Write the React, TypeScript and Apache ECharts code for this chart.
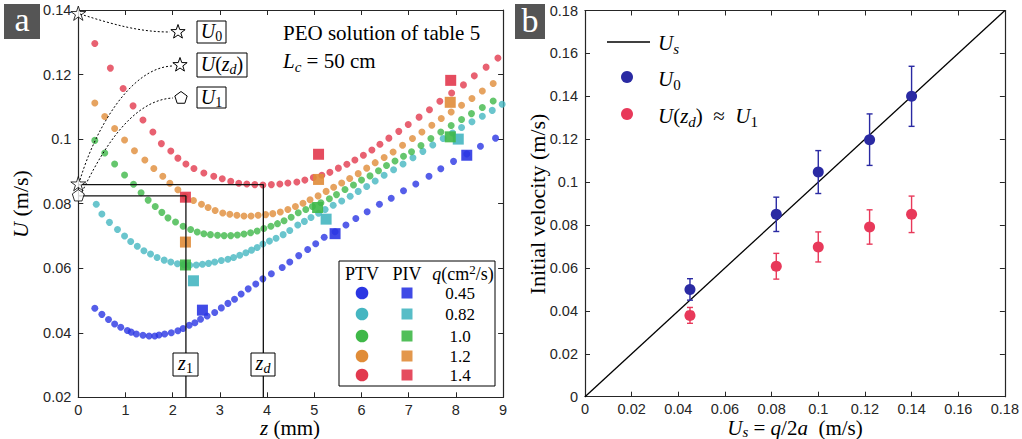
import { useEffect, useRef } from 'react';
import * as echarts from 'echarts';

const SERIF = '"Liberation Serif", "Times New Roman", serif';
const SANS = '"Liberation Sans", Arial, Helvetica, sans-serif';
const AXIS_COLOR = '#262626';

// ---------------- Panel a data ----------------
const flowRates = ['0.45', '0.82', '1.0', '1.2', '1.4'];
const seriesColors = ['#2B36E3', '#45B6C1', '#3FB848', '#E08C38', '#E2394E'];

const ptv045 = [
  [0.35, 0.0476], [0.50, 0.0457], [0.64, 0.0441], [0.77, 0.0427], [0.90, 0.0417], [1.04, 0.0407],
  [1.12, 0.0402], [1.23, 0.0396], [1.37, 0.0392], [1.50, 0.0390], [1.62, 0.0390], [1.71, 0.0393],
  [1.83, 0.0396], [1.97, 0.0400], [2.11, 0.0406], [2.22, 0.0413], [2.35, 0.0423], [2.47, 0.0431],
  [2.59, 0.0442], [2.73, 0.0452], [2.89, 0.0463], [3.03, 0.0477], [3.17, 0.0491], [3.31, 0.0504],
  [3.45, 0.0520], [3.60, 0.0536], [3.76, 0.0551], [3.91, 0.0567], [4.09, 0.0583], [4.32, 0.0602],
  [4.48, 0.0619], [4.67, 0.0639], [4.86, 0.0658], [5.03, 0.0676], [5.21, 0.0696], [5.44, 0.0713],
  [5.67, 0.0734], [5.88, 0.0754], [6.12, 0.0775], [6.38, 0.0798], [6.63, 0.0817], [6.89, 0.0840],
  [7.15, 0.0861], [7.43, 0.0885], [7.68, 0.0908], [7.95, 0.0931], [8.23, 0.0954], [8.52, 0.0978],
  [8.84, 0.1003],
];
const ptv082 = [
  [0.38, 0.0798], [0.50, 0.0768], [0.66, 0.0742], [0.83, 0.0720], [0.98, 0.0700], [1.11, 0.0683],
  [1.25, 0.0668], [1.39, 0.0654], [1.53, 0.0644], [1.67, 0.0633], [1.82, 0.0625], [1.96, 0.0619],
  [2.10, 0.0614], [2.24, 0.0611], [2.36, 0.0609], [2.50, 0.0610], [2.63, 0.0612], [2.76, 0.0615],
  [2.89, 0.0619], [3.03, 0.0624], [3.17, 0.0628], [3.29, 0.0633], [3.42, 0.0640], [3.55, 0.0648],
  [3.67, 0.0656], [3.79, 0.0664], [3.91, 0.0675], [4.05, 0.0684], [4.19, 0.0693], [4.34, 0.0704],
  [4.48, 0.0717], [4.65, 0.0734], [4.79, 0.0745], [4.93, 0.0757], [5.09, 0.0770], [5.23, 0.0782],
  [5.40, 0.0795], [5.58, 0.0808], [5.76, 0.0823], [5.93, 0.0838], [6.11, 0.0853], [6.29, 0.0870],
  [6.48, 0.0888], [6.68, 0.0905], [6.88, 0.0923], [7.09, 0.0942], [7.30, 0.0962], [7.51, 0.0982],
  [7.73, 0.1002], [7.93, 0.1019], [8.12, 0.1036], [8.34, 0.1054], [8.56, 0.1071], [8.77, 0.1089],
  [8.98, 0.1108],
];
const ptv10 = [
  [0.35, 0.0996], [0.56, 0.0957], [0.77, 0.0923], [0.98, 0.0889], [1.17, 0.0860], [1.33, 0.0834],
  [1.48, 0.0811], [1.63, 0.0791], [1.77, 0.0773], [1.90, 0.0756], [2.06, 0.0743], [2.22, 0.0730],
  [2.38, 0.0720], [2.52, 0.0712], [2.66, 0.0707], [2.80, 0.0704], [2.95, 0.0702], [3.09, 0.0701],
  [3.23, 0.0701], [3.37, 0.0703], [3.51, 0.0706], [3.65, 0.0710], [3.79, 0.0715], [3.93, 0.0723],
  [4.08, 0.0730], [4.22, 0.0738], [4.36, 0.0747], [4.51, 0.0758], [4.66, 0.0772], [4.82, 0.0782],
  [4.96, 0.0791], [5.14, 0.0803], [5.32, 0.0815], [5.47, 0.0828], [5.65, 0.0844], [5.83, 0.0858],
  [6.00, 0.0873], [6.18, 0.0886], [6.36, 0.0902], [6.53, 0.0918], [6.71, 0.0932], [6.89, 0.0947],
  [7.06, 0.0961], [7.26, 0.0980], [7.47, 0.1002], [7.68, 0.1022], [7.90, 0.1042], [8.12, 0.1061],
  [8.33, 0.1079], [8.56, 0.1098], [8.79, 0.1118],
];
const ptv12 = [
  [0.35, 0.1112], [0.56, 0.1070], [0.77, 0.1033], [0.98, 0.0997], [1.19, 0.0964], [1.41, 0.0935],
  [1.60, 0.0909], [1.79, 0.0885], [1.94, 0.0863], [2.11, 0.0843], [2.26, 0.0823], [2.44, 0.0810],
  [2.61, 0.0798], [2.75, 0.0788], [2.90, 0.0779], [3.06, 0.0771], [3.21, 0.0767], [3.36, 0.0764],
  [3.51, 0.0762], [3.66, 0.0762], [3.81, 0.0764], [3.97, 0.0766], [4.12, 0.0769], [4.28, 0.0774],
  [4.44, 0.0782], [4.60, 0.0791], [4.76, 0.0801], [4.91, 0.0812], [5.08, 0.0824], [5.25, 0.0838],
  [5.41, 0.0851], [5.58, 0.0864], [5.75, 0.0878], [5.93, 0.0893], [6.11, 0.0910], [6.29, 0.0927],
  [6.48, 0.0943], [6.67, 0.0960], [6.87, 0.0981], [7.08, 0.1002], [7.28, 0.1022], [7.49, 0.1043],
  [7.69, 0.1064], [7.90, 0.1084], [8.12, 0.1105], [8.34, 0.1126], [8.56, 0.1149], [8.79, 0.1172],
];
const ptv14 = [
  [0.35, 0.1296], [0.68, 0.1220], [0.95, 0.1157], [1.16, 0.1103], [1.37, 0.1059], [1.58, 0.1022],
  [1.76, 0.0986], [1.96, 0.0963], [2.11, 0.0941], [2.28, 0.0923], [2.45, 0.0909], [2.66, 0.0895],
  [2.87, 0.0885], [3.05, 0.0877], [3.23, 0.0869], [3.40, 0.0863], [3.57, 0.0861], [3.74, 0.0859],
  [3.91, 0.0858], [4.09, 0.0859], [4.27, 0.0861], [4.44, 0.0864], [4.63, 0.0867], [4.80, 0.0873],
  [4.98, 0.0881], [5.16, 0.0888], [5.33, 0.0897], [5.51, 0.0910], [5.69, 0.0922], [5.86, 0.0935],
  [6.04, 0.0950], [6.22, 0.0966], [6.39, 0.0984], [6.58, 0.1003], [6.79, 0.1024], [6.99, 0.1045],
  [7.22, 0.1068], [7.44, 0.1091], [7.66, 0.1117], [7.91, 0.1143], [8.16, 0.1168], [8.39, 0.1196],
  [8.64, 0.1223], [8.89, 0.1251],
];
const piv045 = [[2.63, 0.0470], [5.44, 0.0707], [8.23, 0.0950]];
const piv082 = [[2.44, 0.0561], [5.25, 0.0752], [8.05, 0.1000]];
const piv10 = [[2.27, 0.0610], [5.07, 0.0788], [7.88, 0.1007]];
const piv12 = [[2.27, 0.0681], [5.09, 0.0875], [7.88, 0.1114]];
const piv14 = [[2.27, 0.0820], [5.09, 0.0953], [7.89, 0.1182]];

const z1Guide = [[0, 0.0824], [2.28, 0.0824], [2.28, 0.02]];
const zdGuide = [[0, 0.0859], [3.92, 0.0859], [3.92, 0.02]];
const axisStars = [[0, 0.139], [0, 0.0862]];
const axisPentagons = [[0, 0.0826]];

// ---------------- Panel b data ----------------
const usValues = [0.045, 0.082, 0.1, 0.122, 0.14];
const u0Values = [0.050, 0.085, 0.1047, 0.1198, 0.140];
const u0Errors = [0.005, 0.008, 0.010, 0.012, 0.014];
const u1Values = [0.0379, 0.0608, 0.0698, 0.0791, 0.0850];
const u1Errors = [0.0037, 0.006, 0.007, 0.008, 0.0085];
const usLine = [[0, 0], [0.18, 0.18]];

const U0_COLOR = '#2A2AA3';
const U1_COLOR = '#E8395A';

const STAR_PATH = 'path://M10 0 L12.23 6.93 L19.51 6.91 L13.61 11.17 L15.88 18.09 L10 13.8 L4.12 18.09 L6.39 11.17 L0.49 6.91 L7.77 6.93 Z';
const PENT_PATH = 'path://M10 0 L19.51 6.91 L15.88 18.09 L4.12 18.09 L0.49 6.91 Z';

function rich(fs: number, subPad?: number) {
  const sub = Math.round(fs * 0.7);
  const pad = subPad !== undefined ? subPad : Math.round(fs * 0.55);
  return {
    i: { fontFamily: SERIF, fontStyle: 'italic', fontSize: fs, lineHeight: fs, fill: '#000', color: '#000' },
    n: { fontFamily: SERIF, fontSize: fs, lineHeight: fs, fill: '#000', color: '#000' },
    s: { fontFamily: SERIF, fontSize: sub, lineHeight: sub, fill: '#000', color: '#000', padding: [pad, 0, 0, 0] },
    si: { fontFamily: SERIF, fontStyle: 'italic', fontSize: sub, lineHeight: sub, fill: '#000', color: '#000', padding: [pad, 0, 0, 0] },
    p: { fontFamily: SERIF, fontSize: sub, lineHeight: sub, fill: '#000', color: '#000', padding: [0, 0, pad, 0] },
  };
}

function txt(x: number, y: number, text: string, fs: number, extra: any = {}) {
  const { subPad, align, ...rest } = extra;
  return {
    type: 'text', x, y, z: 100,
    ...rest,
    style: {
      text, fontFamily: SERIF, fontSize: fs, fill: '#000',
      align: align || 'center', verticalAlign: 'middle', rich: rich(fs, subPad),
    },
  };
}

function starPts(cx: number, cy: number, R: number, r: number) {
  const pts: number[][] = [];
  for (let k = 0; k < 10; k++) {
    const a = -Math.PI / 2 + (k * Math.PI) / 5;
    const rad = k % 2 === 0 ? R : r;
    pts.push([cx + rad * Math.cos(a), cy + rad * Math.sin(a)]);
  }
  return pts;
}
function pentPts(cx: number, cy: number, R: number) {
  const pts: number[][] = [];
  for (let k = 0; k < 5; k++) {
    const a = -Math.PI / 2 + (k * 2 * Math.PI) / 5;
    pts.push([cx + R * Math.cos(a), cy + R * Math.sin(a)]);
  }
  return pts;
}

function mkAxis(kind: 'x' | 'y', gridIndex: number, min: number, max: number, interval: number, labels: boolean, position: string) {
  return {
    type: 'value', gridIndex, min, max, interval, position,
    axisLine: { show: true, onZero: false, lineStyle: { color: AXIS_COLOR, width: 1.2 } },
    axisTick: { show: true, inside: true, length: 5, lineStyle: { color: AXIS_COLOR, width: 1 } },
    axisLabel: { show: labels, color: AXIS_COLOR, fontFamily: SANS, fontSize: 14.5, margin: kind === 'x' ? 5 : 7 },
    splitLine: { show: false },
  };
}

const errorBarItem = (color: string) => (params: any, api: any) => {
  const x = api.value(0), y = api.value(1), e = api.value(2);
  const hi = api.coord([x, y + e]);
  const lo = api.coord([x, y - e]);
  const style = { stroke: color, lineWidth: 1.4 };
  return {
    type: 'group',
    children: [
      { type: 'line', shape: { x1: hi[0], y1: hi[1], x2: lo[0], y2: lo[1] }, style },
      { type: 'line', shape: { x1: hi[0] - 3, y1: hi[1], x2: hi[0] + 3, y2: hi[1] }, style },
      { type: 'line', shape: { x1: lo[0] - 3, y1: lo[1], x2: lo[0] + 3, y2: lo[1] }, style },
    ],
  };
};

export default function App() {
  const ref = useRef<HTMLDivElement>(null);
  useEffect(() => {
    if (!ref.current) return;
    const chart = echarts.init(ref.current, undefined, { renderer: 'svg' });
    const ptv = [ptv045, ptv082, ptv10, ptv12, ptv14];
    const piv = [piv045, piv082, piv10, piv12, piv14];

    const series: any[] = [];
    ptv.forEach((d, k) => series.push({
      type: 'scatter', xAxisIndex: 0, yAxisIndex: 0, data: d, symbol: 'circle', symbolSize: 7,
      itemStyle: { color: seriesColors[k] }, z: 2,
    }));
    piv.forEach((d, k) => series.push({
      type: 'scatter', xAxisIndex: 0, yAxisIndex: 0, data: d, symbol: 'rect', symbolSize: 11,
      itemStyle: { color: seriesColors[k], opacity: 0.9 }, z: 3,
    }));
    [z1Guide, zdGuide].forEach((d) => series.push({
      type: 'line', xAxisIndex: 0, yAxisIndex: 0, data: d, symbol: 'none',
      lineStyle: { color: '#111', width: 1.3 }, z: 5,
    }));
    series.push({
      type: 'scatter', xAxisIndex: 0, yAxisIndex: 0, data: axisStars, symbol: STAR_PATH, symbolSize: 15,
      symbolKeepAspect: true, clip: false, itemStyle: { color: '#fff', borderColor: '#000', borderWidth: 1 }, z: 10,
    });
    series.push({
      type: 'scatter', xAxisIndex: 0, yAxisIndex: 0, data: axisPentagons, symbol: PENT_PATH, symbolSize: 12,
      symbolKeepAspect: true, clip: false, itemStyle: { color: '#fff', borderColor: '#000', borderWidth: 1 }, z: 10,
    });

    // panel b
    series.push({
      type: 'line', xAxisIndex: 2, yAxisIndex: 2, data: usLine, symbol: 'none',
      lineStyle: { color: '#000', width: 1.3 }, z: 2,
    });
    series.push({
      type: 'custom', xAxisIndex: 2, yAxisIndex: 2, coordinateSystem: 'cartesian2d',
      data: usValues.map((x, i) => [x, u0Values[i], u0Errors[i]]), encode: { x: 0, y: 1 },
      renderItem: errorBarItem(U0_COLOR), z: 3,
    });
    series.push({
      type: 'custom', xAxisIndex: 2, yAxisIndex: 2, coordinateSystem: 'cartesian2d',
      data: usValues.map((x, i) => [x, u1Values[i], u1Errors[i]]), encode: { x: 0, y: 1 },
      renderItem: errorBarItem(U1_COLOR), z: 3,
    });
    series.push({
      type: 'scatter', xAxisIndex: 2, yAxisIndex: 2, data: usValues.map((x, i) => [x, u0Values[i]]),
      symbolSize: 11, itemStyle: { color: U0_COLOR, opacity: 1 }, z: 4,
    });
    series.push({
      type: 'scatter', xAxisIndex: 2, yAxisIndex: 2, data: usValues.map((x, i) => [x, u1Values[i]]),
      symbolSize: 11, itemStyle: { color: U1_COLOR, opacity: 1 }, z: 4,
    });

    const dotted = { stroke: '#000', lineWidth: 1, lineDash: [2, 2], fill: 'none' };
    const white = { fill: '#fff', stroke: '#000', lineWidth: 1 };
    const legendRows = [293, 314, 336, 356, 375];

    const elements: any[] = [
      // panel labels
      { type: 'rect', z: 100, shape: { x: 4, y: 4, width: 36, height: 35 }, style: { fill: '#555' } },
      { type: 'text', z: 101, x: 22, y: 19, style: { text: 'a', fontFamily: SERIF, fontSize: 34, fill: '#fff', align: 'center', verticalAlign: 'middle' } },
      { type: 'rect', z: 100, shape: { x: 515, y: 4, width: 30, height: 35 }, style: { fill: '#555' } },
      { type: 'text', z: 101, x: 530, y: 20, style: { text: 'b', fontFamily: SERIF, fontSize: 34, fill: '#fff', align: 'center', verticalAlign: 'middle' } },

      // dotted connectors
      { type: 'bezierCurve', z: 99, shape: { x1: 80, y1: 14, x2: 170, y2: 32, cpx1: 115, cpy1: 25, cpx2: 140, cpy2: 32 }, style: dotted },
      { type: 'bezierCurve', z: 99, shape: { x1: 80, y1: 180, x2: 172, y2: 66, cpx1: 95, cpy1: 130, cpx2: 130, cpy2: 68 }, style: dotted },
      { type: 'bezierCurve', z: 99, shape: { x1: 82, y1: 192, x2: 173, y2: 98, cpx1: 100, cpy1: 155, cpx2: 130, cpy2: 100 }, style: dotted },

      // marker keys
      { type: 'polygon', z: 100, shape: { points: starPts(178, 32, 7.5, 3) }, style: white },
      { type: 'polygon', z: 100, shape: { points: starPts(180, 65, 7.5, 3) }, style: white },
      { type: 'polygon', z: 100, shape: { points: pentPts(181, 98, 6.5) }, style: white },
      { type: 'rect', z: 100, shape: { x: 197, y: 21, width: 29, height: 22 }, style: white },
      { type: 'rect', z: 100, shape: { x: 197, y: 53, width: 50, height: 24 }, style: white },
      { type: 'rect', z: 100, shape: { x: 197, y: 87, width: 29, height: 21 }, style: white },
      txt(211.5, 31, '{i|U}{s|0}', 20, { z: 101 }),
      txt(222, 64, '{i|U}{n|(}{i|z}{si|d}{n|)}', 20, { z: 101 }),
      txt(211.5, 97, '{i|U}{s|1}', 20, { z: 101 }),

      // z1 / zd labels
      { type: 'rect', z: 100, shape: { x: 173, y: 353, width: 25, height: 23 }, style: white },
      { type: 'rect', z: 100, shape: { x: 251, y: 353, width: 24, height: 23 }, style: white },
      txt(185.5, 363, '{i|z}{s|1}', 20, { z: 101 }),
      txt(263, 363, '{i|z}{si|d}', 20, { z: 101 }),

      // title texts panel a
      txt(283, 33, '{n|PEO solution of table 5}', 21, { align: 'left', z: 101 }),
      txt(283, 61, '{i|L}{si|c}{n| = 50 cm}', 21, { align: 'left', z: 101 }),

      // legend panel a
      { type: 'rect', z: 100, shape: { x: 339, y: 261, width: 156, height: 125 }, style: white },
      txt(362, 274, '{n|PTV}', 18, { z: 101 }),
      txt(407, 274, '{n|PIV}', 18, { z: 101 }),
      txt(463, 274, '{i|q}{n|(cm}{p|2}{n|/s)}', 18, { z: 101 }),

      // axis titles
      txt(20, 204, '{i|U}{n| (m/s)}', 22, { rotation: Math.PI / 2, z: 101 }),
      txt(290, 428.2, '{i|z}{n| (mm)}', 21, { z: 101 }),
      txt(537, 204, '{n|Initial velocity (m/s)}', 22, { rotation: Math.PI / 2, z: 101 }),
      txt(795, 427.5, '{i|U}{si|s}{n| = }{i|q}{n|/2}{i|a}{n|  (m/s)}', 21, { z: 101, subPad: 8 }),

      // legend panel b
      { type: 'line', z: 100, shape: { x1: 607, y1: 42, x2: 650, y2: 42 }, style: { stroke: '#000', lineWidth: 1.5 } },
      { type: 'circle', z: 100, shape: { cx: 627, cy: 77, r: 6 }, style: { fill: U0_COLOR } },
      { type: 'circle', z: 100, shape: { cx: 627, cy: 114, r: 6 }, style: { fill: U1_COLOR } },
      txt(658, 43, '{i|U}{si|s}', 21, { align: 'left', z: 101 }),
      txt(658, 79, '{i|U}{s|0}', 21, { align: 'left', z: 101 }),
      txt(658, 116, '{i|U}{n|(}{i|z}{si|d}{n|)  ≈  }{i|U}{s|1}', 21, { align: 'left', z: 101 }),
    ];

    legendRows.forEach((y, k) => {
      elements.push({ type: 'circle', z: 101, shape: { cx: 362, cy: y, r: 6.3 }, style: { fill: seriesColors[k] } });
      elements.push({ type: 'rect', z: 101, shape: { x: 401.5, y: y - 5.5, width: 11, height: 11 }, style: { fill: seriesColors[k], opacity: 0.9 } });
      elements.push(txt(460, y, `{n|${flowRates[k]}}`, 17, { z: 101 }));
    });

    chart.setOption({
      animation: false,
      backgroundColor: '#fff',
      grid: [
        { left: 78.3, top: 10, width: 424.8, height: 387.3 },
        { left: 585, top: 10.5, width: 420, height: 386.2 },
      ],
      xAxis: [
        mkAxis('x', 0, 0, 9, 1, true, 'bottom'),
        mkAxis('x', 0, 0, 9, 1, false, 'top'),
        mkAxis('x', 1, 0, 0.18, 0.02, true, 'bottom'),
        mkAxis('x', 1, 0, 0.18, 0.02, false, 'top'),
      ],
      yAxis: [
        mkAxis('y', 0, 0.02, 0.14, 0.02, true, 'left'),
        mkAxis('y', 0, 0.02, 0.14, 0.02, false, 'right'),
        mkAxis('y', 1, 0, 0.18, 0.02, true, 'left'),
        mkAxis('y', 1, 0, 0.18, 0.02, false, 'right'),
      ],
      series,
      graphic: { elements },
    });
    return () => chart.dispose();
  }, []);
  return <div ref={ref} style={{ position: 'absolute', left: 0, top: 0, width: 1022, height: 439 }} />;
}
